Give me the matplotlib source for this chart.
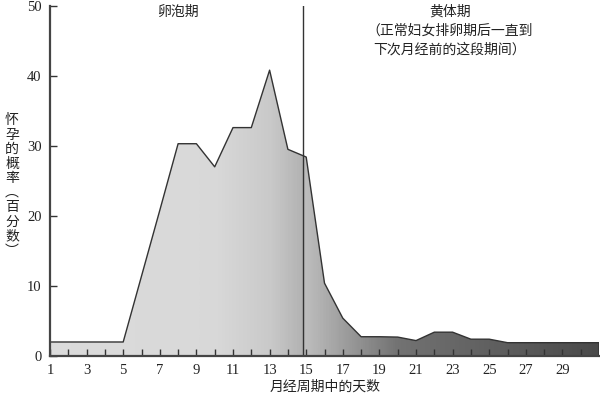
import numpy as np
import matplotlib
matplotlib.use("Agg")
import matplotlib.pyplot as plt
from matplotlib.colors import LinearSegmentedColormap

plt.rcParams['font.family'] = ['Liberation Serif', 'Noto Sans CJK SC']

days = list(range(1, 32))
prob = [2.0, 2.0, 2.0, 2.0, 2.0, 11.4, 20.8, 30.3, 30.3, 27.0, 32.6, 32.6, 40.8,
        29.5, 28.4, 10.4, 5.4, 2.75, 2.75, 2.7, 2.2, 3.4, 3.4, 2.4, 2.4,
        1.9, 1.9, 1.9, 1.9, 1.9, 1.9]
tick_days = list(range(1, 31))
tick_labels = [str(d) if d % 2 == 1 else "" for d in tick_days]
ovulation_day = 14.8
ylabel_chars = ["怀", "孕", "的", "概", "率", "︵", "百", "分", "数", "︶"]

fig = plt.figure(figsize=(6.0, 4.01), dpi=100)
ax = fig.add_axes([50/600, 1-356/401, 549/600, (356-5.7)/401])

x = np.array(days, dtype=float)
y = np.array(prob)
ax.set_xlim(1, 31)
ax.set_ylim(0, 50)

poly = ax.fill_between(x, 0, y, facecolor='none', edgecolor='none')
stops = [(0.0, 0.86), (9/30, 0.85), (12/30, 0.79), (13.8/30, 0.70), (14.0/30, 0.74),
         (19/30, 0.45), (1.0, 0.29)]
cmap = LinearSegmentedColormap.from_list(
    'g', [(p, (v, v, v)) for p, v in stops])
grad = np.linspace(0, 1, 600).reshape(1, -1)
im = ax.imshow(grad, cmap=cmap, extent=[1, 31, 0, 50], aspect='auto',
               origin='lower', zorder=1, vmin=0, vmax=1)
path = poly.get_paths()[0]
im.set_clip_path(path, transform=ax.transData)

ax.plot(np.append(x, x[-1]), np.append(y, 0), color='#333333', lw=1.0, zorder=3)
ax.plot([ovulation_day, ovulation_day], [0, 50], color='#333333', lw=1.0, zorder=3)

for s in ['top', 'right']:
    ax.spines[s].set_visible(False)
for s in ['left', 'bottom']:
    ax.spines[s].set_color('#444444')
    ax.spines[s].set_linewidth(1.6)
    ax.spines[s].set_zorder(4)

ax.set_xticks(tick_days)
ax.set_xticklabels(tick_labels)
ax.set_yticks([0, 10, 20, 30, 40, 50])
ax.tick_params(axis='both', direction='in', length=5, width=1.0, color='#333333',
               labelsize=10.5, labelcolor='#222222')
ax.tick_params(axis='x', pad=6)
ax.tick_params(axis='y', pad=6)

fig.text(325/600, 1-387/401, "月经周期中的天数", ha='center', va='center',
         fontsize=10, color='#222222')
fig.text(12/600, 1-186/401, "\n".join(ylabel_chars), ha='center', va='center',
         fontsize=10, color='#222222', linespacing=1.15)

fig.text(178/600, 1-12/401, "卵泡期", ha='center', va='center', fontsize=10, color='#222222')
fig.text(450/600, 1-12/401, "黄体期", ha='center', va='center', fontsize=10, color='#222222')
fig.text(450/600, 1-31/401, "（正常妇女排卵期后一直到", ha='center', va='center', fontsize=10, color='#222222')
fig.text(450/600, 1-50/401, "下次月经前的这段期间）", ha='center', va='center', fontsize=10, color='#222222')

fig.savefig("out.png", dpi=100)
